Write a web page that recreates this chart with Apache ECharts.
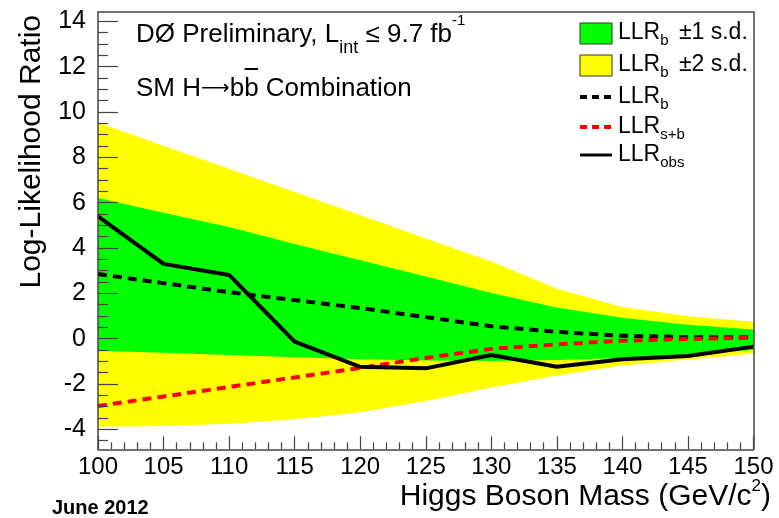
<!DOCTYPE html>
<html>
<head>
<meta charset="utf-8">
<script src="https://cdn.jsdelivr.net/npm/echarts@6/dist/echarts.min.js"></script>
<style>
  html, body { margin: 0; padding: 0; background: #fff; }
  #chart { width: 779px; height: 518px; }
</style>
</head>
<body>
<div id="chart"></div>
<script>
// Higgs boson mass points (GeV/c^2)
const masses = [100, 105, 110, 115, 120, 125, 130, 135, 140, 145, 150];

// Observed log-likelihood ratio
const llrObs = [5.39, 3.30, 2.81, -0.13, -1.24, -1.31, -0.72, -1.24, -0.91, -0.76, -0.35];
// Expected LLR, background-only hypothesis
const llrB = [2.85, 2.45, 2.05, 1.70, 1.35, 0.95, 0.55, 0.30, 0.13, 0.07, 0.06];
// Expected LLR, signal+background hypothesis
const llrSB = [-2.97, -2.55, -2.13, -1.71, -1.29, -0.85, -0.45, -0.25, -0.09, -0.01, 0.04];

// LLR_b +-1 s.d. band
const band1Lo = [-0.53, -0.62, -0.72, -0.82, -0.91, -0.96, -0.98, -0.94, -0.85, -0.72, -0.50];
const band1Hi = [6.20, 5.56, 4.93, 4.18, 3.46, 2.74, 2.02, 1.38, 0.92, 0.61, 0.41];
// LLR_b +-2 s.d. band
const band2Lo = [-3.88, -3.85, -3.75, -3.55, -3.25, -2.75, -2.15, -1.62, -1.18, -0.92, -0.65];
const band2Hi = [9.54, 8.51, 7.49, 6.47, 5.45, 4.42, 3.40, 2.20, 1.40, 0.99, 0.75];

// Axis tick labels
const xTickLabels = [100, 105, 110, 115, 120, 125, 130, 135, 140, 145, 150];
const yTickLabels = [-4, -2, 0, 2, 4, 6, 8, 10, 12, 14];

const FONT = "'Liberation Sans', Arial, Helvetica, sans-serif";
const ARROW_FONT = "'DejaVu Sans', sans-serif";
const FRAME = '#444';
const Y_MIN = -4.88, Y_MAX = 14.41;

// minor y ticks every 0.5 between the labelled ticks
const yMinor = [];
for (let v = -4.5; v <= 14; v += 0.5) {
  if (Math.abs(v - Math.round(v / 2) * 2) > 1e-6) yMinor.push(v);
}

const pairs = arr => masses.map((m, i) => [m, arr[i]]);

// filled band between a lower and an upper curve, drawn as one polygon
function bandSeries(name, lo, hi, color, z) {
  return {
    name: name, type: 'custom', z: z, silent: true, clip: true,
    data: masses.map((m, i) => [m, lo[i], hi[i]]),
    encode: { x: 0, y: [1, 2] },
    renderItem: (params, api) => {
      if (params.dataIndexInside !== 0) return null;
      const n = params.dataInsideLength;
      const pts = [];
      for (let i = 0; i < n; i++) pts.push(api.coord([api.value(0, i), api.value(2, i)]));
      for (let i = n - 1; i >= 0; i--) pts.push(api.coord([api.value(0, i), api.value(1, i)]));
      return { type: 'polygon', shape: { points: pts }, style: { fill: color } };
    }
  };
}

const chart = echarts.init(document.getElementById('chart'), null, { renderer: 'canvas' });

// text width helper for the overline on the anti-b quark
const measureCtx = document.createElement('canvas').getContext('2d');
function textWidth(str, size, family) {
  measureCtx.font = 'normal ' + size + 'px ' + (family || FONT);
  return measureCtx.measureText(str).width;
}

const TITLE_X = 136;
const LINE2_Y = 89;
const TITLE_SIZE = 26;
const ARROW = '\u27f6';
const ARROW_SIZE = 20;
const bStart = TITLE_X + textWidth('SM H', TITLE_SIZE) + textWidth(ARROW, ARROW_SIZE, ARROW_FONT) + textWidth('b', TITLE_SIZE);
const bWidth = textWidth('b', TITLE_SIZE);

const legendText = (y, rich) => ({
  type: 'text', x: 618, y: y, z: 20,
  style: {
    text: rich, verticalAlign: 'middle', align: 'left',
    rich: {
      m: { fontSize: 23, fontFamily: FONT, lineHeight: 30, color: '#000' },
      s: { fontSize: 15, fontFamily: FONT, lineHeight: 15, verticalAlign: 'bottom', color: '#000' },
      g: { fontSize: 23, fontFamily: FONT, lineHeight: 30, color: '#000', padding: [0, 0, 0, 4] }
    }
  }
});

const option = {
  animation: false,
  backgroundColor: '#fff',
  grid: { left: 98, right: 25.5, top: 12, bottom: 68.7, show: false },
  xAxis: [
    {
      type: 'value', min: 100, max: 150, interval: 5, position: 'bottom', z: 10,
      axisLine: { show: true, onZero: false, lineStyle: { color: FRAME, width: 1.5 } },
      axisTick: { show: true, inside: true, length: 13, lineStyle: { color: FRAME, width: 1.2 } },
      minorTick: { show: true, splitNumber: 5, length: 7, lineStyle: { color: FRAME, width: 1.2 } },
      splitLine: { show: false }, minorSplitLine: { show: false },
      axisLabel: {
        show: true, margin: 6, fontSize: 24, color: '#000', fontFamily: FONT,
        showMinLabel: true, showMaxLabel: true,
        formatter: v => (xTickLabels.indexOf(v) >= 0 ? String(v) : '')
      }
    },
    {
      type: 'value', min: 100, max: 150, position: 'top', z: 10,
      axisLine: { show: true, onZero: false, lineStyle: { color: FRAME, width: 1.5 } },
      axisTick: { show: false }, axisLabel: { show: false }, splitLine: { show: false }
    }
  ],
  yAxis: [
    {
      type: 'value', min: Y_MIN, max: Y_MAX, position: 'left', z: 10,
      axisLine: { show: true, onZero: false, lineStyle: { color: FRAME, width: 1.5 } },
      axisTick: { show: true, inside: true, length: 20, customValues: yTickLabels, lineStyle: { color: FRAME, width: 1.2 } },
      axisLabel: { show: true, margin: 12, fontSize: 25, color: '#000', fontFamily: FONT, customValues: yTickLabels },
      splitLine: { show: false }
    },
    {
      type: 'value', min: Y_MIN, max: Y_MAX, position: 'right', z: 10,
      axisLine: { show: true, onZero: false, lineStyle: { color: FRAME, width: 1.5 } },
      axisTick: { show: false }, axisLabel: { show: false }, splitLine: { show: false }
    },
    {
      type: 'value', min: Y_MIN, max: Y_MAX, position: 'left', offset: 0, z: 10,
      axisLine: { show: false },
      axisTick: { show: true, inside: true, length: 10, customValues: yMinor, lineStyle: { color: FRAME, width: 1.2 } },
      axisLabel: { show: false }, splitLine: { show: false }
    }
  ],
  series: [
    bandSeries('LLRb 2sd', band2Lo, band2Hi, '#ffff00', 1),
    bandSeries('LLRb 1sd', band1Lo, band1Hi, '#00ff00', 2),
    {
      name: 'LLRb', type: 'line', data: pairs(llrB), symbol: 'none', z: 3,
      lineStyle: { color: '#000', width: 4, type: [9, 6] }
    },
    {
      name: 'LLRsb', type: 'line', data: pairs(llrSB), symbol: 'none', z: 3,
      lineStyle: { color: '#ff0000', width: 4, type: [9, 6] }
    },
    {
      name: 'LLRobs', type: 'line', data: pairs(llrObs), symbol: 'none', z: 4,
      lineStyle: { color: '#000', width: 4, join: 'round' }
    }
  ],
  graphic: [
    // axis titles
    {
      type: 'text', x: 32, y: 15, rotation: Math.PI / 2, z: 20,
      style: { text: 'Log-Likelihood Ratio', fontSize: 30, fontFamily: FONT, fill: '#000', align: 'right', verticalAlign: 'middle' }
    },
    {
      type: 'text', x: 771, y: 497, z: 20,
      style: {
        text: '{m|Higgs Boson Mass (GeV/c}{sup|2}{m|)}', align: 'right', verticalAlign: 'middle',
        rich: {
          m: { fontSize: 30, fontFamily: FONT, lineHeight: 38, color: '#000' },
          sup: { fontSize: 17, fontFamily: FONT, lineHeight: 22, verticalAlign: 'top', color: '#000' }
        }
      }
    },
    {
      type: 'text', x: 52, y: 508, z: 20,
      style: { text: 'June 2012', fontSize: 20, fontWeight: 'bold', fontFamily: FONT, fill: '#000', align: 'left', verticalAlign: 'middle' }
    },
    // annotation text
    {
      type: 'text', x: TITLE_X, y: 35, z: 20,
      style: {
        text: '{m|D\u00d8 Preliminary, L}{sub|int}{m| \u2264 9.7 fb}{sup|-1}', align: 'left', verticalAlign: 'middle',
        rich: {
          m: { fontSize: TITLE_SIZE, fontFamily: FONT, lineHeight: 44, color: '#000' },
          sub: { fontSize: 18, fontFamily: FONT, lineHeight: 18, verticalAlign: 'bottom', color: '#000' },
          sup: { fontSize: 15, fontFamily: FONT, lineHeight: 22, verticalAlign: 'top', color: '#000' }
        }
      }
    },
    {
      type: 'text', x: TITLE_X, y: LINE2_Y, z: 20,
      style: {
        text: '{m|SM H}{a|' + ARROW + '}{m|bb Combination}', align: 'left', verticalAlign: 'middle',
        rich: {
          m: { fontSize: TITLE_SIZE, fontFamily: FONT, lineHeight: 34, color: '#000' },
          a: { fontSize: ARROW_SIZE, fontFamily: ARROW_FONT, lineHeight: 34, color: '#000' }
        }
      }
    },
    {
      type: 'line', z: 20,
      shape: { x1: bStart + 0.5, y1: LINE2_Y - 20, x2: bStart + bWidth - 0.5, y2: LINE2_Y - 20 },
      style: { stroke: '#000', lineWidth: 2 }
    },
    // legend
    { type: 'rect', z: 20, shape: { x: 580, y: 23, width: 32, height: 21 }, style: { fill: '#00ff00', stroke: '#333', lineWidth: 1 } },
    { type: 'rect', z: 20, shape: { x: 580, y: 55, width: 32, height: 21 }, style: { fill: '#ffff00', stroke: '#333', lineWidth: 1 } },
    { type: 'line', z: 20, shape: { x1: 580, y1: 97, x2: 612, y2: 97 }, style: { stroke: '#000', lineWidth: 4, lineDash: [7, 5] } },
    { type: 'line', z: 20, shape: { x1: 580, y1: 127, x2: 612, y2: 127 }, style: { stroke: '#ff0000', lineWidth: 4, lineDash: [7, 5] } },
    { type: 'line', z: 20, shape: { x1: 580, y1: 155, x2: 612, y2: 155 }, style: { stroke: '#000', lineWidth: 3 } },
    legendText(33, '{m|LLR}{s|b}{g| \u00b11 s.d.}'),
    legendText(65, '{m|LLR}{s|b}{g| \u00b12 s.d.}'),
    legendText(97, '{m|LLR}{s|b}'),
    legendText(127, '{m|LLR}{s|s+b}'),
    legendText(155, '{m|LLR}{s|obs}')
  ]
};

chart.setOption(option);
</script>
</body>
</html>
